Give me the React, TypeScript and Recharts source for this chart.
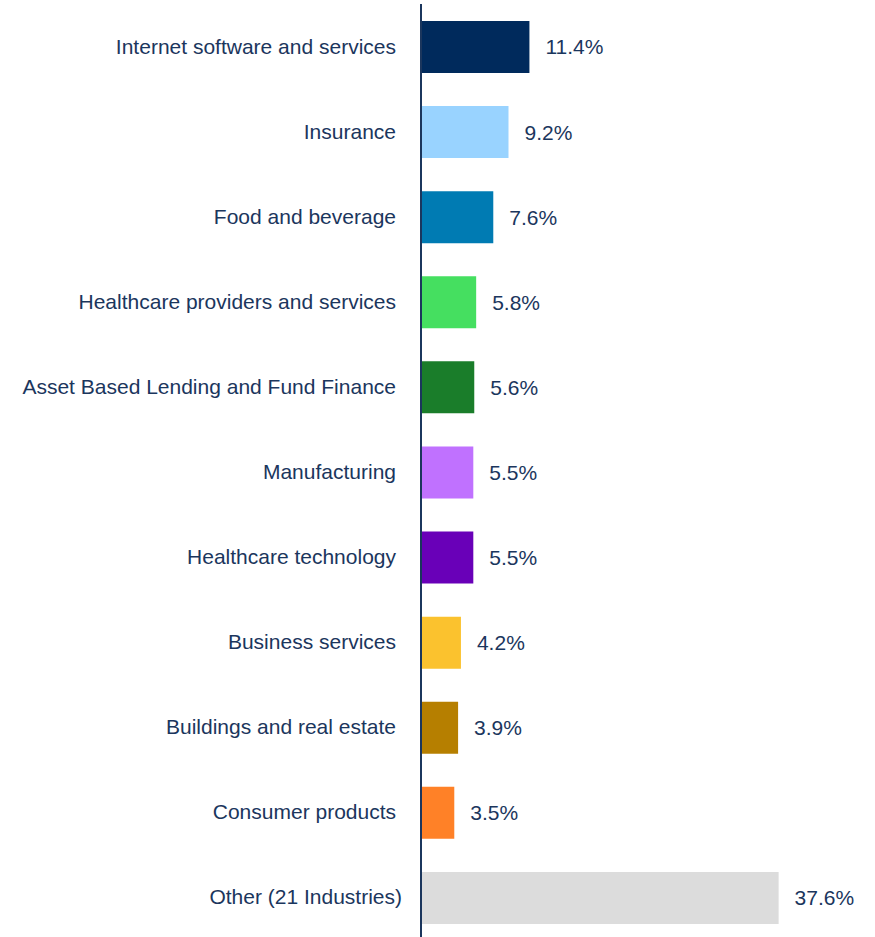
import { BarChart, Bar, XAxis, YAxis, Cell, LabelList } from 'recharts';

const industries = [
  'Internet software and services',
  'Insurance',
  'Food and beverage',
  'Healthcare providers and services',
  'Asset Based Lending and Fund Finance',
  'Manufacturing',
  'Healthcare technology',
  'Business services',
  'Buildings and real estate',
  'Consumer products',
  'Other (21 Industries)',
];

const shares = [11.4, 9.2, 7.6, 5.8, 5.6, 5.5, 5.5, 4.2, 3.9, 3.5, 37.6];

const barColors = [
  '#002a5c',
  '#99d3ff',
  '#007bb3',
  '#45df60',
  '#1a7d2a',
  '#c071ff',
  '#6900b8',
  '#fbc22e',
  '#b67f00',
  '#ff8127',
  '#dcdcdc',
];

const TEXT = '#1b365d';
const FONT = '"Liberation Sans", Arial, sans-serif';

const data = industries.map((name, i) => ({ name, share: shares[i] }));

function IndustryTick(props: any) {
  const { x, y, payload } = props;
  const isOther = payload.value.startsWith('Other');
  return (
    <text
      x={x + (isOther ? 6 : 0)}
      y={y}
      dy={7}
      textAnchor="end"
      fill={TEXT}
      fontSize={21}
      fontFamily={FONT}
    >
      {payload.value}
    </text>
  );
}

export default function App() {
  return (
    <div style={{ position: 'absolute', left: 0, top: 0, width: 875, height: 937, overflow: 'hidden', background: '#fff' }}>
      <BarChart
        width={875}
        height={940}
        data={data}
        layout="vertical"
        margin={{ top: 4, right: 26, bottom: 0, left: 0 }}
        barSize={52}
      >
        <XAxis type="number" domain={[0, 45]} hide />
        <YAxis
          type="category"
          dataKey="name"
          width={421}
          axisLine={{ stroke: TEXT, strokeWidth: 2 }}
          tickLine={false}
          tickSize={0}
          tickMargin={25}
          tick={<IndustryTick />}
          interval={0}
        />
        <Bar dataKey="share" isAnimationActive={false}>
          {data.map((d, i) => (
            <Cell key={d.name} fill={barColors[i]} />
          ))}
          <LabelList
            dataKey="share"
            position="right"
            offset={16}
            fill={TEXT}
            fontSize={21}
            fontFamily={FONT}
            formatter={(v: any) => `${Number(v).toFixed(1)}%`}
          />
        </Bar>
      </BarChart>
    </div>
  );
}
